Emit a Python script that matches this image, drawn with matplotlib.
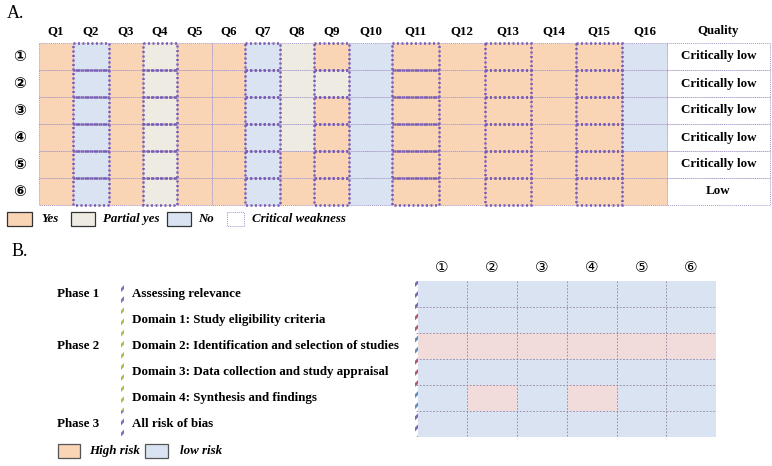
import matplotlib

matplotlib.use("Agg")
import matplotlib.pyplot as plt
from matplotlib.patches import Rectangle

plt.rcParams["hatch.linewidth"] = 2.0

# ---- data: panel A (AMSTAR 2) ----
questions = [f"Q{i}" for i in range(1, 17)]
studies_a = ["①", "②", "③", "④", "⑤", "⑥"]
# Y = yes, P = partial yes, N = no
ratings = [
    "YNYPYYNPYNYYYYYN",
    "YNYPYYNPPNYYYYYN",
    "YNYPYYNPYNYYYYYN",
    "YNYPYYNPYNYYYYYN",
    "YNYPYYNYYNYYYYYY",
    "YNYPYYNYYNYYYYYY",
]
quality = ["Critically low"] * 5 + ["Low"]
critical_q = [2, 4, 7, 9, 11, 13, 15]

# ---- data: panel B (ROBIS) ----
studies_b = ["①", "②", "③", "④", "⑤", "⑥"]
domains = [
    "Assessing relevance",
    "Domain 1: Study eligibility criteria",
    "Domain 2: Identification and selection of studies",
    "Domain 3: Data collection and study appraisal",
    "Domain 4: Synthesis and findings",
    "All risk of bias",
]
phases = {"Phase 1": 0, "Phase 2": 2, "Phase 3": 5}
risk = [
    "LLLLLL",
    "LLLLLL",
    "HHHHHH",
    "LLLLLL",
    "LHLHLL",
    "LLLLLL",
]

# ---- style ----
C_YES, C_PART, C_NO = "#F9D5B5", "#EEECE2", "#DAE3F2"
C_HIGH_CELL, C_LOW = "#F2DBDB", "#DAE3F2"
PURPLE = "#7A5CB4"
THIN = "#A797C8"
rating_col = {"Y": C_YES, "P": C_PART, "N": C_NO}
risk_col = {"H": C_HIGH_CELL, "L": C_LOW}
SERIF = "Liberation Serif"

fig = plt.figure(figsize=(7.72, 4.66), dpi=100)
ax = fig.add_axes([0, 0, 1, 1])
ax.set_xlim(0, 772)
ax.set_ylim(466, 0)
ax.axis("off")

# ---------------- panel A ----------------
ax.text(7, 14, "A.", fontsize=13, family=SERIF, va="center", ha="left")
col_edges = [39, 73, 109, 143, 177, 212, 245, 280, 314, 349, 392, 439, 485,
             531, 576, 622, 667, 770]
row_edges = [43, 70, 97, 124, 151, 178, 205]

for j, q in enumerate(questions):
    ax.text((col_edges[j] + col_edges[j + 1]) / 2, 31, q, fontsize=9.3,
            family=SERIF, weight="bold", ha="center", va="center")
ax.text((col_edges[16] + col_edges[17]) / 2, 31, "Quality", fontsize=9.3,
        family=SERIF, weight="bold", ha="center", va="center")

crit_rects = []
for i, row in enumerate(ratings):
    y0, y1 = row_edges[i], row_edges[i + 1]
    ax.text(20, (y0 + y1) / 2, studies_a[i], fontsize=11, weight="bold",
            family="DejaVu Sans", ha="center", va="center")
    for j, r in enumerate(row):
        x0, x1 = col_edges[j], col_edges[j + 1]
        ax.add_patch(Rectangle((x0, y0), x1 - x0, y1 - y0, facecolor=rating_col[r],
                               edgecolor=THIN, lw=0.7, ls=(0, (1, 1))))
        if (j + 1) in critical_q:
            crit_rects.append((x0, y0, x1 - x0, y1 - y0))
    x0, x1 = col_edges[16], col_edges[17]
    ax.add_patch(Rectangle((x0, y0), x1 - x0, y1 - y0, facecolor="white",
                           edgecolor=THIN, lw=0.7, ls=(0, (1, 1))))
    ax.text((x0 + x1) / 2, (y0 + y1) / 2, quality[i], fontsize=9.4, family=SERIF,
            weight="bold", ha="center", va="center")
for x, y, w, h in crit_rects:
    ax.add_patch(Rectangle((x, y), w, h, facecolor="none", edgecolor=PURPLE,
                           lw=1.8, ls=(0, (0.8, 1.0))))

# legend A
leg_a = [(7, 32, C_YES, "Yes", 41), (71, 95, C_PART, "Partial yes", 103),
         (167, 191, C_NO, "No", 198)]
for x0, x1, c, lab, tx in leg_a:
    ax.add_patch(Rectangle((x0, 212), x1 - x0, 14, facecolor=c, edgecolor="#333333", lw=0.9))
    ax.text(tx, 219, lab, fontsize=9.3, family=SERIF, style="italic", weight="bold",
            va="center", ha="left")
ax.add_patch(Rectangle((227, 212), 17, 14, facecolor="white", edgecolor=THIN,
                       lw=0.7, ls=(0, (1, 1))))
ax.text(252, 219, "Critical weakness", fontsize=9.3, family=SERIF, style="italic",
        weight="bold", va="center", ha="left")

# ---------------- panel B ----------------
ax.text(12, 252, "B.", fontsize=13, family=SERIF, va="center", ha="left")
b_col = [416, 467, 517, 567, 617, 666, 716]
b_row = [281, 307, 333, 359, 385, 411, 437]

for k, lab in enumerate(domains):
    yc = (b_row[k] + b_row[k + 1]) / 2
    ax.text(132, yc, lab, fontsize=9.4, family=SERIF, weight="bold", va="center", ha="left")
for lab, k in phases.items():
    yc = (b_row[k] + b_row[k + 1]) / 2
    ax.text(57, yc, lab, fontsize=9.4, family=SERIF, weight="bold", va="center", ha="left")

# striped phase bar on the left
phase_bar = [(281, 307, "#8A6CC0"), (307, 411, "#A3C452"), (411, 437, "#8A6CC0")]
for y0, y1, c in phase_bar:
    ax.add_patch(Rectangle((120.5, y0), 3.5, y1 - y0, facecolor="white", edgecolor=c,
                           lw=0, hatch="///"))

# grid cells
for i, row in enumerate(risk):
    for j, r in enumerate(row):
        ax.add_patch(Rectangle((b_col[j], b_row[i]), b_col[j + 1] - b_col[j],
                               b_row[i + 1] - b_row[i], facecolor=risk_col[r],
                               edgecolor="none"))
for x in b_col[1:-1]:
    ax.plot([x, x], [b_row[0], b_row[-1]], color="#8E7F9E", lw=0.6, ls=(0, (2, 2)))
for y in b_row[1:-1]:
    ax.plot([b_col[0], b_col[-1]], [y, y], color="#8E7F9E", lw=0.6, ls=(0, (2, 2)))
for j, s in enumerate(studies_b):
    ax.text((b_col[j] + b_col[j + 1]) / 2, 268, s, fontsize=11,
            family="DejaVu Sans", ha="center", va="center")

# striped bar on the left of the grid
grid_bar = ["#7F68B0", "#B05A6A", "#5F8FB8", "#B05A6A", "#5F8FB8", "#7F68B0"]
for k, c in enumerate(grid_bar):
    ax.add_patch(Rectangle((414.5, b_row[k]), 3.5, b_row[k + 1] - b_row[k],
                           facecolor="white", edgecolor=c, lw=0, hatch="///"))

# legend B
ax.add_patch(Rectangle((58, 444), 22, 14, facecolor=C_YES, edgecolor="#555555", lw=0.9))
ax.text(89, 451, "High risk", fontsize=9.4, family=SERIF, style="italic", weight="bold",
        va="center", ha="left")
ax.add_patch(Rectangle((145, 444), 23, 14, facecolor=C_LOW, edgecolor="#555555", lw=0.9))
ax.text(180, 451, "low risk", fontsize=9.4, family=SERIF, style="italic", weight="bold",
        va="center", ha="left")

fig.savefig("out.png", dpi=100)
